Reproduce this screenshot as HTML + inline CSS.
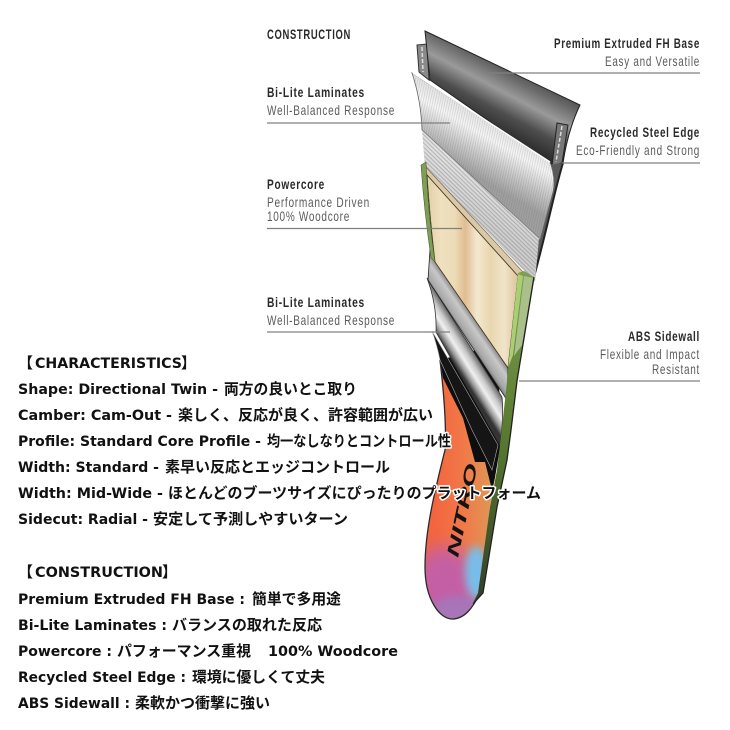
<!DOCTYPE html>
<html><head><meta charset="utf-8">
<style>
html,body{margin:0;padding:0;background:#fff;width:730px;height:730px;overflow:hidden}
svg{display:block}
.h{font:700 14px "Liberation Sans",sans-serif;fill:#2a2a2a;letter-spacing:1px}
.s{font:400 14px "Liberation Sans",sans-serif;fill:#5c5c5c;letter-spacing:1px}
.t text{paint-order:stroke;stroke:#fff;stroke-width:3px;stroke-linejoin:round;fill:#111}
.l{font:700 14px "DejaVu Sans",sans-serif}
.j{font:700 15px "Liberation Sans","Noto Sans CJK JP",sans-serif}
line{stroke:#808080;stroke-width:1.2}
</style></head><body>
<svg width="730" height="730" viewBox="0 0 730 730" xmlns="http://www.w3.org/2000/svg">
<defs>
<linearGradient id="gb" gradientUnits="userSpaceOnUse" x1="512" y1="58" x2="474" y2="130">
<stop offset="0" stop-color="#3c3c3c"/><stop offset=".22" stop-color="#6a6a6a"/><stop offset=".42" stop-color="#9a9a9a"/><stop offset=".65" stop-color="#4e4e4e"/><stop offset="1" stop-color="#1c1c1c"/></linearGradient>
<linearGradient id="gl" gradientUnits="userSpaceOnUse" x1="490" y1="120" x2="462" y2="168">
<stop offset="0" stop-color="#e4e4e4"/><stop offset=".3" stop-color="#f6f6f6"/><stop offset=".65" stop-color="#c8c8c8"/><stop offset="1" stop-color="#a0a0a0"/></linearGradient>
<linearGradient id="gr" gradientUnits="userSpaceOnUse" x1="485" y1="180" x2="465" y2="215">
<stop offset="0" stop-color="#e2e2e2"/><stop offset="1" stop-color="#cfcfcf"/></linearGradient>
<linearGradient id="gw" gradientUnits="userSpaceOnUse" x1="427" y1="0" x2="518" y2="0">
<stop offset="0" stop-color="#e2cfa4"/><stop offset=".15" stop-color="#efe0bf"/><stop offset=".3" stop-color="#ecdcb8"/><stop offset=".42" stop-color="#e0bd92"/><stop offset=".55" stop-color="#f3e8d0"/><stop offset=".7" stop-color="#e9d6b0"/><stop offset=".85" stop-color="#f0e4c8"/><stop offset="1" stop-color="#dcc49a"/></linearGradient>
<linearGradient id="ga" gradientUnits="userSpaceOnUse" x1="470" y1="310" x2="451" y2="323">
<stop offset="0" stop-color="#7a7a7a"/><stop offset=".3" stop-color="#c8c8c8"/><stop offset=".7" stop-color="#a8a8a8"/><stop offset="1" stop-color="#5a5a5a"/></linearGradient>
<linearGradient id="gc" gradientUnits="userSpaceOnUse" x1="465" y1="338" x2="446" y2="350">
<stop offset="0" stop-color="#666"/><stop offset=".3" stop-color="#c8c8c8"/><stop offset=".55" stop-color="#f0f0f0"/><stop offset=".8" stop-color="#999"/><stop offset="1" stop-color="#333"/></linearGradient>
<linearGradient id="gs" x1="0" y1="0" x2="0" y2="1">
<stop offset="0" stop-color="#7f9f50"/><stop offset=".5" stop-color="#587a30"/><stop offset="1" stop-color="#333f26"/></linearGradient>
<linearGradient id="go" gradientUnits="userSpaceOnUse" x1="435" y1="0" x2="495" y2="0">
<stop offset="0" stop-color="#f4653f"/><stop offset=".5" stop-color="#f07a48"/><stop offset="1" stop-color="#dd9a58"/></linearGradient>
<pattern id="rib" width="2.4" height="3" patternUnits="userSpaceOnUse" patternTransform="rotate(12)"><rect width="1" height="3" fill="#555" opacity=".16"/></pattern>
<pattern id="rib2" width="3" height="3" patternUnits="userSpaceOnUse" patternTransform="rotate(44)"><rect width="3" height="1.2" fill="#555" opacity=".3"/></pattern>
<filter id="bl" x="-50%" y="-50%" width="200%" height="200%"><feGaussianBlur stdDeviation="9"/></filter>
<filter id="bs" x="-50%" y="-50%" width="200%" height="200%"><feGaussianBlur stdDeviation="4"/></filter>
<clipPath id="bd"><path d="M440,360 Q447,420 445,450 C435,490 425,530 425,567 C425,600 440,619 452,619 C465,619 473,607 479,595 L490,507 L503,430 L495,345 Z"/></clipPath>
</defs>

<!-- far steel edge -->
<path d="M417,45 L427,44 L429,80 L419,72 Z" fill="#8a8a8a" stroke="#333" stroke-width="1"/>
<path d="M422,47 L423,72" stroke="#ddd" stroke-width="1.5" stroke-dasharray="4 2"/>
<!-- base -->
<path d="M425,31 L580,105 Q568,130 563,163 L552,165 L430,80 Z" fill="url(#gb)" stroke="#222" stroke-width="1"/>
<!-- near steel edge -->
<path d="M557,123 L568,125 L562,163 L552,166 Z" fill="#777" stroke="#222" stroke-width="1"/>
<path d="M562,126 L556,162" stroke="#ddd" stroke-width="1.5" stroke-dasharray="4 2"/>
<!-- outer strip -->
<path d="M563,163 C556,185 548,225 534,277 L530,285 L548,165 Z" fill="#5a5a5a"/>
<path d="M563,163 C556,185 548,225 534,277" fill="none" stroke="#222" stroke-width="2"/>
<!-- laminate 1 -->
<path d="M412,73 L550,162 Q556,178 553,192 L540,240 L422,130 Q421,100 412,73 Z" fill="url(#gl)" stroke="#666" stroke-width=".8"/>
<path d="M412,73 L550,162 Q556,178 553,192 L540,240 L422,130 Q421,100 412,73 Z" fill="url(#rib)"/>
<path d="M413,73 L550,162" stroke="#fff" stroke-width="1.5"/>
<!-- ribbed -->
<path d="M422,130 L539,238 L535,282 L425,167 Z" fill="url(#gr)"/>
<path d="M422,130 L539,238 L535,282 L425,167 Z" fill="url(#rib2)"/>
<path d="M422,130 L539,238" stroke="#777" stroke-width=".8"/>
<!-- board base -->
<g clip-path="url(#bd)">
<rect x="420" y="340" width="100" height="285" fill="url(#go)"/>
<ellipse cx="445" cy="590" rx="34" ry="44" fill="#c45fa6" filter="url(#bl)"/>
<ellipse cx="460" cy="612" rx="30" ry="16" fill="#a774b8" filter="url(#bs)"/>
<ellipse cx="476" cy="572" rx="11" ry="26" fill="#78bdea" filter="url(#bs)"/>
<path d="M437,340 L443,378 L463,418 L475,462 L485,462 L492,490 L505,440 L495,340 Z" fill="#0e0e0e"/>
<text transform="translate(458,558) rotate(-78)" font-family="'Liberation Sans',sans-serif" font-weight="700" font-style="italic" font-size="17" fill="#141414" textLength="95" lengthAdjust="spacingAndGlyphs">NITRO</text>
</g>
<path d="M440,360 Q447,420 445,450 C435,490 425,530 425,567 C425,600 440,619 452,619 C465,619 473,607 479,595" fill="none" stroke="#2a2a2a" stroke-width="1.3"/>
<!-- layer C -->
<path d="M432,331 L498,445 L492,470 L472,430 L440,360 Q437,345 432,331 Z" fill="#151515" stroke="#aaa" stroke-width=".6"/>
<!-- layer B -->
<path d="M427,278 L502,397 Q504,415 500,445 L436,332 Q437,305 427,278 Z" fill="url(#gc)" stroke="#333" stroke-width=".8"/>
<!-- layer A -->
<path d="M430,250 L508,368 L507,400 L428,280 Z" fill="url(#ga)" stroke="#222" stroke-width=".8"/>
<!-- bevel + wood -->
<path d="M424,165 L523,272 L518,276 L427,175 Z" fill="#d9c9a8" stroke="#6a5a40" stroke-width=".6"/>
<path d="M427,175 L518,276 L508,368 L435,262 Q430,220 427,175 Z" fill="url(#gw)" stroke="#3a3020" stroke-width=".8"/>
<!-- left green strip -->
<path d="M421,165 L426,162 Q428,215 435,262 L431,258 Q424,210 421,165 Z" fill="#7f9f55" stroke="#3c4f26" stroke-width=".5"/>
<!-- sidewall -->
<path d="M518,273 L524,271 L534,277 C528,315 522,350 517,381 L511,430 L507,460 L497,507 L483,593 L473,603 L478,593 L490,507 L497,470 L500,445 L505,400 L507,381 Z" fill="url(#gs)"/>
<path d="M518,274 L523,276 L513,355 L508,368 Z" fill="#aace72"/>
<path d="M524,276 L533,278 L522,345 L514,356 Z" fill="#a9c08c"/>
<path d="M534,277 C528,315 522,350 517,381 L511,430 L507,460 L497,507 L483,593 L473,604" fill="none" stroke="#222" stroke-width="1.3"/>

<!-- leader lines -->
<line x1="488" y1="73" x2="700" y2="73"/>
<line x1="562" y1="163" x2="700" y2="163"/>
<line x1="267" y1="123" x2="450" y2="123"/>
<line x1="267" y1="228.5" x2="462" y2="228.5"/>
<line x1="267" y1="332" x2="450" y2="332"/>
<line x1="519" y1="381" x2="700" y2="381"/>

<!-- labels -->
<text class="h" x="267" y="39" textLength="84" lengthAdjust="spacingAndGlyphs">CONSTRUCTION</text>
<text class="h" x="267" y="97" textLength="98" lengthAdjust="spacingAndGlyphs">Bi-Lite Laminates</text>
<text class="s" x="267" y="115" textLength="128" lengthAdjust="spacingAndGlyphs">Well-Balanced Response</text>
<text class="h" x="267" y="189" textLength="58" lengthAdjust="spacingAndGlyphs">Powercore</text>
<text class="s" x="267" y="207" textLength="103" lengthAdjust="spacingAndGlyphs">Performance Driven</text>
<text class="s" x="267" y="221" textLength="83" lengthAdjust="spacingAndGlyphs">100% Woodcore</text>
<text class="h" x="267" y="307" textLength="98" lengthAdjust="spacingAndGlyphs">Bi-Lite Laminates</text>
<text class="s" x="267" y="325" textLength="128" lengthAdjust="spacingAndGlyphs">Well-Balanced Response</text>
<text class="h" x="554" y="48" textLength="146" lengthAdjust="spacingAndGlyphs">Premium Extruded FH Base</text>
<text class="s" x="605" y="66" textLength="95" lengthAdjust="spacingAndGlyphs">Easy and Versatile</text>
<text class="h" x="590" y="137" textLength="110" lengthAdjust="spacingAndGlyphs">Recycled Steel Edge</text>
<text class="s" x="576" y="155" textLength="124" lengthAdjust="spacingAndGlyphs">Eco-Friendly and Strong</text>
<text class="h" x="628" y="341" textLength="72" lengthAdjust="spacingAndGlyphs">ABS Sidewall</text>
<text class="s" x="600" y="359" textLength="100" lengthAdjust="spacingAndGlyphs">Flexible and Impact</text>
<text class="s" x="652" y="374" textLength="48" lengthAdjust="spacingAndGlyphs">Resistant</text>

<!-- body copy -->
<g class="t">
<text class="j" x="18" y="368" textLength="16">【</text><text class="l" x="35" y="368" textLength="147" lengthAdjust="spacingAndGlyphs">CHARACTERISTICS</text><text class="j" x="181" y="368">】</text>
<text class="l" x="18" y="394" textLength="200" lengthAdjust="spacingAndGlyphs">Shape: Directional Twin -</text><text class="j" x="224" y="394" textLength="133" lengthAdjust="spacingAndGlyphs">両方の良いとこ取り</text>
<text class="l" x="18" y="420" textLength="154" lengthAdjust="spacingAndGlyphs">Camber: Cam-Out -</text><text class="j" x="178" y="420" textLength="255" lengthAdjust="spacingAndGlyphs">楽しく、反応が良く、許容範囲が広い</text>
<text class="l" x="18" y="446" textLength="243" lengthAdjust="spacingAndGlyphs">Profile: Standard Core Profile -</text><text class="j" x="267" y="446" textLength="184" lengthAdjust="spacingAndGlyphs">均一なしなりとコントロール性</text>
<text class="l" x="18" y="472" textLength="141" lengthAdjust="spacingAndGlyphs">Width: Standard -</text><text class="j" x="165" y="472" textLength="225" lengthAdjust="spacingAndGlyphs">素早い反応とエッジコントロール</text>
<text class="l" x="18" y="498" textLength="145" lengthAdjust="spacingAndGlyphs">Width: Mid-Wide -</text><text class="j" x="168" y="498" textLength="373" lengthAdjust="spacingAndGlyphs">ほとんどのブーツサイズにぴったりのプラットフォーム</text>
<text class="l" x="18" y="524" textLength="130" lengthAdjust="spacingAndGlyphs">Sidecut: Radial -</text><text class="j" x="153" y="524" textLength="195" lengthAdjust="spacingAndGlyphs">安定して予測しやすいターン</text>

<text class="j" x="18" y="577" textLength="16">【</text><text class="l" x="35" y="577" textLength="128" lengthAdjust="spacingAndGlyphs">CONSTRUCTION</text><text class="j" x="162" y="577">】</text>
<text class="l" x="18" y="604" textLength="227" lengthAdjust="spacingAndGlyphs">Premium Extruded FH Base :</text><text class="j" x="252" y="604" textLength="89" lengthAdjust="spacingAndGlyphs">簡単で多用途</text>
<text class="l" x="18" y="630" textLength="149" lengthAdjust="spacingAndGlyphs">Bi-Lite Laminates :</text><text class="j" x="172" y="630" textLength="150" lengthAdjust="spacingAndGlyphs">バランスの取れた反応</text>
<text class="l" x="18" y="656" textLength="94" lengthAdjust="spacingAndGlyphs">Powercore :</text><text class="j" x="117" y="656" textLength="134" lengthAdjust="spacingAndGlyphs">パフォーマンス重視</text><text class="l" x="268" y="656" textLength="130" lengthAdjust="spacingAndGlyphs">100% Woodcore</text>
<text class="l" x="18" y="682" textLength="168" lengthAdjust="spacingAndGlyphs">Recycled Steel Edge :</text><text class="j" x="192" y="682" textLength="133" lengthAdjust="spacingAndGlyphs">環境に優しくて丈夫</text>
<text class="l" x="18" y="708" textLength="112" lengthAdjust="spacingAndGlyphs">ABS Sidewall :</text><text class="j" x="135" y="708" textLength="135" lengthAdjust="spacingAndGlyphs">柔軟かつ衝撃に強い</text>
</g>
</svg>
</body></html>
